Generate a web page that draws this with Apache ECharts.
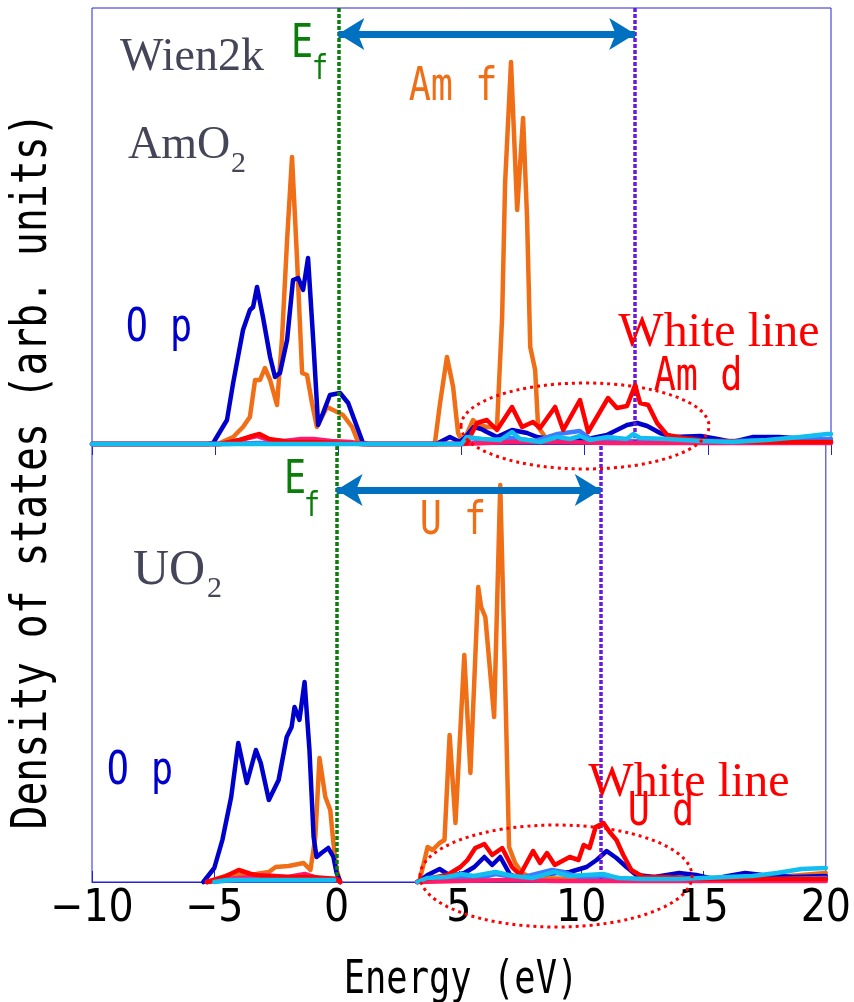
<!DOCTYPE html>
<html><head><meta charset="utf-8">
<script src="https://cdn.jsdelivr.net/npm/echarts@6/dist/echarts.min.js"></script>
<style>html,body{margin:0;padding:0;background:#fff}#c{width:854px;height:1002px}</style>
</head><body><div id="c"></div>
<script>
// ---------- axis ----------
const xMin = -10, xMax = 20, xStep = 5;
const xTickLabels = ['−10', '−5', '0', '5', '10', '15', '20'];

// ---------- AmO2 (top panel), DOS in arb. units ----------
const amO_Op_E = [-10, -5.3, -5.08, -4.52, -4.27, -3.87, -3.59, -3.46, -3.30, -3.06, -2.77, -2.57, -2.37, -2.08, -1.84, -1.63, -1.43, -1.23, -1.02, -0.82, -0.62, -0.34, 0.07, 0.40, 0.76, 1.0, 1.2, 4.0, 4.13, 4.53, 4.94, 5.2, 5.5, 5.8, 6.03, 6.44, 7.05, 7.66, 8.07, 8.88, 9.94, 10.9, 11.72, 12.13, 12.54, 13.06, 13.6, 14.7, 15.4, 16.0, 16.85, 17.9, 19, 20];
const amO_Op_D = [0, 0, 1, 24, 61, 114, 134, 137, 157, 127, 87, 67, 71, 104, 164, 166, 154, 186, 104, 19, 31, 49, 51, 41, 17, 1, 0, 0, 2, 7, 2, 8, 17, 15, 12, 7, 14, 11, 7, 4, 4, 9, 19, 21, 18, 11, 7, 8, 5, 2, 7, 7, 5, 3];

const amO_f_E = [-10, -5.0, -4.9, -4.27, -3.87, -3.59, -3.38, -3.18, -2.98, -2.77, -2.49, -2.29, -2.08, -1.88, -1.68, -1.47, -1.27, -1.07, -0.87, -0.46, -0.05, 0.19, 0.56, 0.80, 1.0, 3.8, 3.92, 4.13, 4.41, 4.66, 4.86, 5.06, 5.47, 5.67, 6.03, 6.44, 6.65, 6.77, 7.01, 7.26, 7.50, 7.66, 7.79, 7.99, 8.11, 8.40, 9, 12, 16, 20];
const amO_f_D = [0, 0, 0, 7, 17, 27, 64, 64, 76, 64, 39, 104, 204, 287, 187, 71, 69, 41, 17, 37, 32, 29, 17, 2, 0, 0, 1, 41, 87, 57, 11, 1, 24, 19, 17, 17, 127, 261, 382, 234, 326, 227, 97, 74, 17, 7, 3, 2, 2, 3];

const amO_d_E = [-10, -4.8, -4.0, -3.5, -3.2, -2.8, -2.0, -1.0, 0, 1.0, 5.0, 5.22, 5.63, 6.03, 6.44, 7.05, 7.46, 7.9, 8.19, 8.8, 9.13, 9.81, 10.14, 10.95, 11.31, 11.72, 12.05, 12.25, 12.58, 12.94, 13.35, 14.0, 15, 17, 20];
const amO_d_D = [0, 0, 4, 8, 10, 5, 2, 2, 1, 0, 0, 1, 21, 24, 14, 37, 17, 22, 16, 37, 14, 44, 12, 46, 36, 38, 59, 41, 39, 21, 9, 6, 3, 2, 2];

const amO_pk_E = [-10, -4.8, -4.0, -3.3, -2.8, -2.2, -1.5, -1.0, -0.3, 0.5, 1.0, 5, 7, 9, 11, 13, 20];
const amO_pk_D = [0, 0, 4, 8, 4, 3, 5, 5, 3, 2, 0, 0, 2, 2, 1, 1, 1];

const amO_mb_E = [-10, -4.5, -3.3, -2, -1.5, 0, 1, 5, 6.0, 7.0, 8.0, 8.9, 9.8, 10.3, 11, 12, 13, 14, 16, 18, 20];
const amO_mb_D = [0, 0, 1, 1, 2, 1, 0, 0, 3, 6, 3, 10, 13, 4, 3, 3, 2, 3, 3, 4, 5];

const amO_cy_E = [-10, 5.0, 5.2, 5.85, 6.57, 7.05, 7.38, 8.2, 8.88, 9.41, 9.81, 10.2, 10.95, 11.7, 11.97, 12.25, 13.35, 14.7, 16, 17.4, 18.75, 19.85, 20];
const amO_cy_D = [0, 0, 7, 5, 4, 12, 5, 2, 7, 5, 8, 4, 7, 5, 10, 6, 5, 3, 2, 4, 7, 10, 10];

// ---------- UO2 (bottom panel) ----------
const uO_Op_E = [-5.45, -5.40, -5.0, -4.67, -4.31, -4.02, -3.67, -3.30, -3.10, -2.77, -2.37, -2.04, -1.84, -1.72, -1.52, -1.31, -1.11, -0.94, -0.82, -0.62, -0.34, -0.13, 0.0, 0.15, 1.7, 3.3, 3.45, 3.72, 4.21, 4.53, 4.86, 5.22, 5.63, 6.04, 6.36, 6.69, 7.1, 7.5, 8.19, 9.0, 9.53, 10.22, 10.63, 11.04, 11.44, 11.85, 12.25, 13.0, 14.0, 14.7, 15.4, 16.0, 16.7, 17.4, 18.7, 20];
const uO_Op_D = [0, 0, 14, 42, 85, 139, 99, 132, 119, 82, 102, 145, 155, 175, 162, 200, 132, 45, 25, 29, 34, 25, 9, 0, null, 0, 2, 7, 13, 8, 7, 9, 15, 25, 17, 25, 7, 4, 7, 9, 10, 15, 22, 31, 24, 15, 7, 5, 9, 7, 3, 6, 9, 7, 5, 6];

const uO_f_E = [-5.3, -4.4, -3.3, -2.77, -2.49, -1.96, -1.35, -1.07, -0.87, -0.70, -0.46, -0.26, -0.13, 0.0, 0.15, 1.7, 3.3, 3.4, 3.72, 3.92, 4.21, 4.41, 4.62, 4.86, 5.22, 5.47, 5.79, 5.91, 6.08, 6.44, 6.69, 6.89, 7.05, 7.3, 7.58, 8, 10, 12, 14, 16, 18, 19, 20];
const uO_f_D = [0, 7, 8, 10, 15, 16, 19, 12, 45, 124, 85, 72, 39, 12, 0, null, 0, 2, 35, 32, 39, 42, 147, 59, 227, 109, 295, 275, 265, 165, 397, 202, 35, 19, 9, 4, 3, 3, 4, 4, 5, 7, 9];

const uO_d_E = [-5.3, -4.6, -4.0, -3.5, -3.0, -2.0, -1.0, 0, 0.15, 1.7, 3.3, 3.45, 4.53, 5.06, 5.35, 5.67, 6.04, 6.36, 6.77, 7.17, 7.5, 8.03, 8.32, 8.6, 8.92, 9.53, 9.89, 10.1, 10.34, 10.59, 10.91, 11.16, 11.44, 11.72, 12.05, 12.54, 13.3, 15, 17, 20];
const uO_d_D = [0, 5, 12, 8, 6, 5, 5, 3, 0, null, 0, 2, 7, 15, 22, 34, 38, 27, 34, 15, 7, 31, 19, 29, 17, 25, 22, 37, 34, 55, 59, 50, 42, 27, 12, 5, 5, 3, 3, 3];

const uO_pk_E = [-5.3, -4.5, -3.5, -3.0, -2.0, -1.3, -0.8, 0, 0.15, 1.7, 3.3, 5, 7, 9, 11, 13, 20];
const uO_pk_D = [0, 3, 5, 7, 5, 8, 4, 3, 0, null, 0, 1, 2, 1, 1, 1, 1];

const uO_mb_E = [-5.3, -4, -2, 0, 0.15, 1.7, 3.3, 4.0, 5.0, 6.0, 6.5, 7.5, 8.8, 9.3, 10.0, 11.0, 12.0, 14, 16, 18, 20];
const uO_mb_D = [0, 2, 2, 2, 0, null, 0, 3, 4, 5, 8, 4, 12, 10, 4, 5, 3, 3, 3, 3, 4];

const uO_cy_E = [-5.0, -4.5, -2, -0.1, 1.7, 3.3, 3.7, 4.5, 5.1, 5.6, 6.5, 7.2, 8.0, 8.9, 9.5, 10.9, 11.5, 12.5, 14, 15, 16, 17, 18, 19, 20];
const uO_cy_D = [0, 2, 2, 2, null, 0, 4, 5, 8, 6, 10, 6, 4, 10, 6, 8, 4, 3, 3, 4, 5, 6, 9, 13, 14];

// ---------- reference energies ----------
const topEdgeE = 12.05;   // AmO2 white line
const botEdgeE = 10.8;    // UO2 white line
const topArrowY = 410, botArrowY = 392;

// ---------- colours ----------
const C = { f: '#F06E16', Op: '#0000CC', d: '#FF0000', pk: '#FF1A6E', mb: '#3A7BFF', cy: '#12BEF0',
            axis: '#2424D6', green: '#0A7D0A', purple: '#6A18E0', arrow: '#0070C0' };

const chart = echarts.init(document.getElementById('c'), null, { renderer: 'canvas' });

function ser(E, D, color, g, z) {
  return { type: 'line', xAxisIndex: g, yAxisIndex: g, data: E.map((e, i) => [e, D[i] === null ? '-' : D[i]]),
    showSymbol: false, symbol: 'none', clip: false, connectNulls: false, silent: true, animation: false,
    lineStyle: { color, width: 4.5, join: 'round', cap: 'round' }, itemStyle: { color }, z };
}
function vline(e, color) {
  return { xAxis: e, lineStyle: { color, width: 3.5, type: [4, 2] } };
}
function arrowSer(g, e0, e1, y) {
  return { type: 'line', xAxisIndex: g, yAxisIndex: g, data: [], silent: true, animation: false, z: 20,
    markLine: { silent: true, animation: false, symbol: ['arrow', 'arrow'], symbolSize: [24, 26], label: { show: false },
      lineStyle: { color: C.arrow, width: 7, type: 'solid' },
      data: [[{ coord: [e0, y] }, { coord: [e1, y] }]] } };
}
function vlineSer(g, items) {
  return { type: 'line', xAxisIndex: g, yAxisIndex: g, data: [], silent: true, animation: false, z: 15,
    markLine: { silent: true, animation: false, symbol: ['none', 'none'], label: { show: false }, data: items } };
}

const monoFont = "'DejaVu Sans Mono', monospace";
const narrowFont = "'Liberation Sans Narrow','DejaVu Sans Condensed','DejaVu Sans Mono',sans-serif";

function mono(text, x, y, color, size, sx) {
  return { type: 'text', x, y, scaleX: sx || 0.8, z: 30,
    style: { text, fill: color, font: `${size}px ${monoFont}`, textAlign: 'center', textVerticalAlign: 'middle' } };
}
function serif(text, x, y, color, size, align) {
  return { type: 'text', x, y, z: 30,
    style: { text, fill: color, font: `${size}px 'Liberation Serif', serif`, textAlign: align || 'center', textVerticalAlign: 'middle' } };
}

const xAxisCommon = {
  type: 'value', min: xMin, max: xMax, interval: xStep,
  axisLine: { show: true, lineStyle: { color: C.axis, width: 1 } },
  axisTick: { show: true, inside: true, length: 11, lineStyle: { color: C.axis, width: 1 } },
  splitLine: { show: false }
};

chart.setOption({
  animation: false,
  backgroundColor: '#fff',
  grid: [
    { left: 92, right: 23, top: 8, height: 436, show: true, borderColor: C.axis, borderWidth: 1 },
    { left: 92, right: 23, top: 444, height: 438, show: true, borderColor: C.axis, borderWidth: 1 }
  ],
  xAxis: [
    Object.assign({}, xAxisCommon, { gridIndex: 0, position: 'top', axisLabel: { show: false } }),
    Object.assign({}, xAxisCommon, { gridIndex: 1, position: 'bottom',
      axisLabel: { show: true, margin: 6, color: '#000', fontSize: 44, fontFamily: narrowFont,
        formatter: v => xTickLabels[Math.round((v - xMin) / xStep)] } })
  ],
  yAxis: [
    { type: 'value', gridIndex: 0, min: 0, max: 436, show: false },
    { type: 'value', gridIndex: 1, min: 0, max: 438, show: false }
  ],
  series: [
    ser(amO_f_E, amO_f_D, C.f, 0, 2),
    ser(amO_Op_E, amO_Op_D, C.Op, 0, 3),
    ser(amO_mb_E, amO_mb_D, C.mb, 0, 4),
    ser(amO_pk_E, amO_pk_D, C.pk, 0, 5),
    ser(amO_d_E, amO_d_D, C.d, 0, 6),
    ser(amO_cy_E, amO_cy_D, C.cy, 0, 7),
    ser(uO_f_E, uO_f_D, C.f, 1, 2),
    ser(uO_Op_E, uO_Op_D, C.Op, 1, 3),
    ser(uO_mb_E, uO_mb_D, C.mb, 1, 4),
    ser(uO_pk_E, uO_pk_D, C.pk, 1, 5),
    ser(uO_d_E, uO_d_D, C.d, 1, 6),
    ser(uO_cy_E, uO_cy_D, C.cy, 1, 7),
    vlineSer(0, [vline(0, C.green), vline(topEdgeE, C.purple)]),
    vlineSer(1, [vline(0, C.green), vline(botEdgeE, C.purple)]),
    arrowSer(0, 0, topEdgeE, topArrowY),
    arrowSer(1, 0, botEdgeE, botArrowY)
  ],
  graphic: [
    // axis titles
    { type: 'text', x: 33, y: 471, rotation: Math.PI / 2, scaleX: 0.81, z: 30,
      style: { text: 'Density of states (arb. units)', fill: '#000', font: `49px ${monoFont}`, textAlign: 'center', textVerticalAlign: 'middle' } },
    { type: 'text', x: 461, y: 981, scaleX: 0.77, z: 30,
      style: { text: 'Energy (eV)', fill: '#000', font: `46px ${monoFont}`, textAlign: 'center', textVerticalAlign: 'middle' } },
    // top panel labels
    serif('Wien2k', 192, 58, '#45455A', 46),
    serif('AmO', 128, 146, '#45455A', 46, 'left'),
    serif('2', 231, 164, '#45455A', 30, 'left'),
    mono('E', 302, 45, C.green, 46),
    mono('f', 320, 70, C.green, 34),
    mono('Am f', 453, 88, C.f, 46),
    mono('O p', 159, 329, C.Op, 46),
    serif('White line', 719, 333, C.d, 48),
    mono('Am d', 698, 378, C.d, 46),
    // bottom panel labels
    serif('UO', 133, 571, '#45455A', 50, 'left'),
    serif('2', 207, 589, '#45455A', 30, 'left'),
    mono('E', 295, 481, C.green, 46),
    mono('f', 312, 507, C.green, 34),
    mono('U f', 453, 522, C.f, 46),
    mono('O p', 140, 772, C.Op, 46),
    serif('White line', 689, 783, C.d, 48),
    mono('U d', 661, 813, C.d, 46),
    // dotted ellipses
    { type: 'ellipse', z: 25, shape: { cx: 585, cy: 426, rx: 124, ry: 43 },
      style: { fill: null, stroke: C.d, lineWidth: 3, lineDash: [3, 4] } },
    { type: 'ellipse', z: 25, shape: { cx: 556, cy: 876, rx: 136, ry: 51 },
      style: { fill: null, stroke: C.d, lineWidth: 3, lineDash: [3, 4] } }
  ]
});
</script></body></html>
